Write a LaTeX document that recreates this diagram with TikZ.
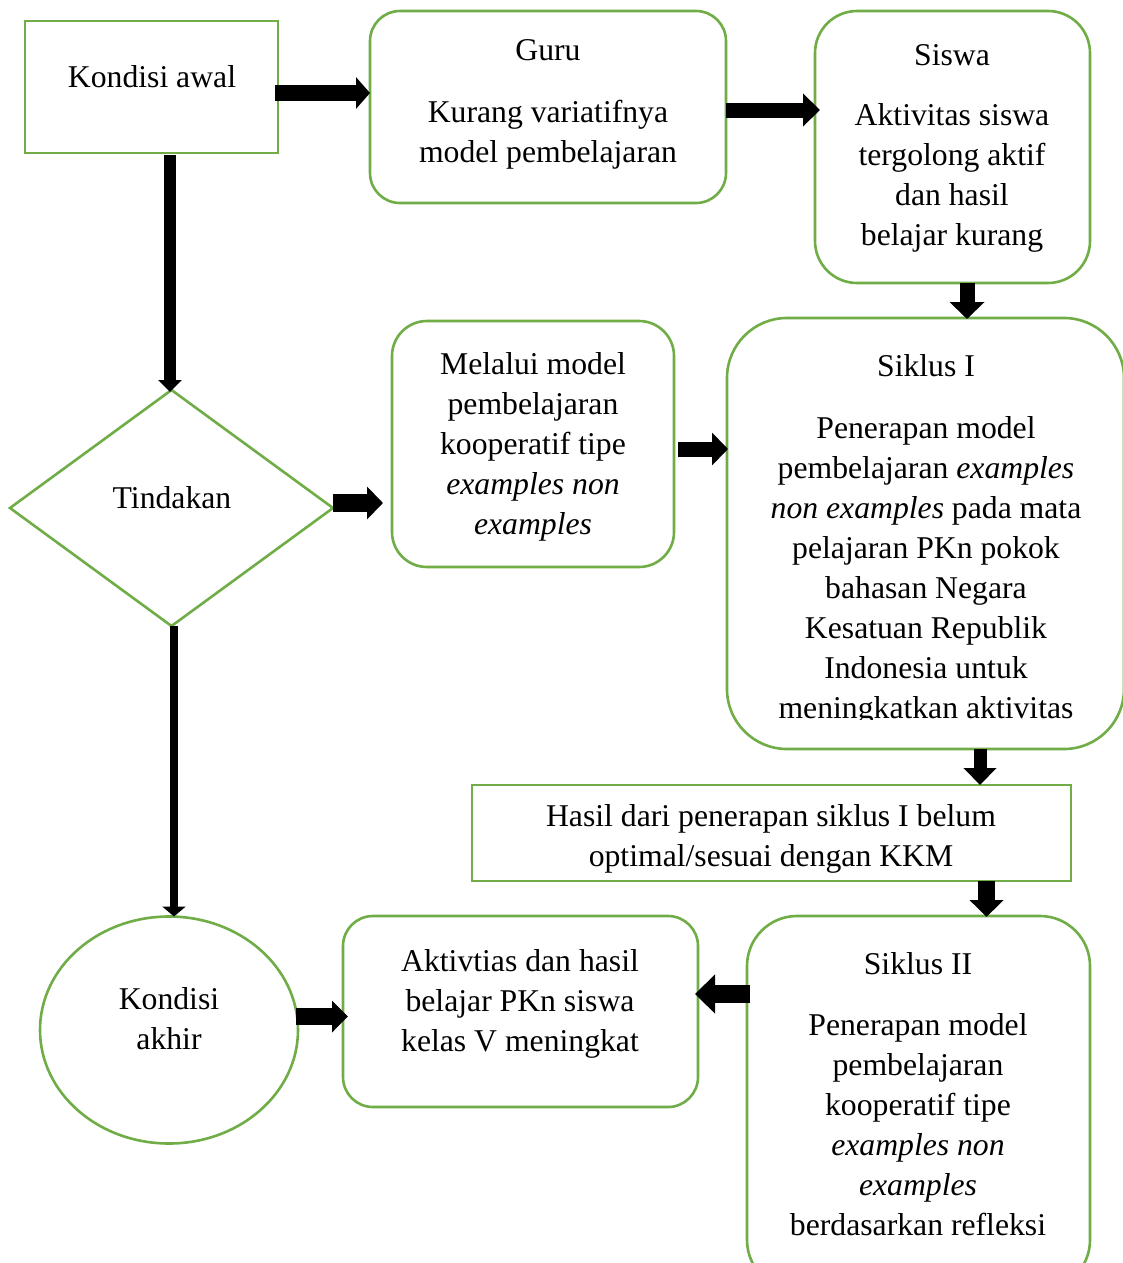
\documentclass[tikz,border=0pt]{standalone}
\usepackage{fontspec}
\setmainfont{Liberation Serif}
\usetikzlibrary{shapes.geometric,arrows.meta}
\definecolor{boxgreen}{HTML}{70AD47}
\tikzset{
  box/.style={draw=boxgreen, line width=2.6pt, fill=white, inner sep=0pt, outer sep=0pt},
  rbox/.style={box, rectangle, rounded corners=#1},
  txt/.style={align=center, inner sep=0pt, font=\fontsize{31.7}{40}\selectfont},
  barrow/.style n args={3}{draw=black, line width=#1, -{Triangle[width=#2, length=#3]}}
}
\begin{document}
\begin{tikzpicture}[x=1pt,y=-1pt]
\clip (0,0) rectangle (1123,1263);
\fill[white] (0,0) rectangle (1123,1263);
% boxes
\node[box, rectangle, minimum width=253pt, minimum height=132pt] (ka) at (151.5,87) {};
\node[rbox=30pt, minimum width=356pt, minimum height=192pt] (guru) at (548,107) {};
\node[rbox=42pt, minimum width=275pt, minimum height=272pt] (siswa) at (952.5,147) {};
\node[rbox=60pt, minimum width=397pt, minimum height=431pt] (s1) at (925.5,533.5) {};
\node[rbox=35pt, minimum width=282pt, minimum height=246pt] (mel) at (533,444) {};
\node[box, diamond, minimum width=323pt, minimum height=236pt] (dia) at (171.5,508) {};
\node[box, rectangle, minimum width=599pt, minimum height=96pt] (hasil) at (771.5,833) {};
\node[rbox=50pt, minimum width=343pt, minimum height=374pt] (s2) at (918.5,1103) {};
\node[rbox=30pt, minimum width=355pt, minimum height=191pt] (akt) at (520.5,1011.5) {};
\node[box, ellipse, minimum width=258pt, minimum height=227pt] (kak) at (169,1030) {};
% texts
\node[txt] (kat) at (152,77) {Kondisi awal};
\node[txt] (gurut) at (548,104) {Guru\\[22pt]Kurang variatifnya\\model pembelajaran};
\node[txt] (siswat) at (952,148) {Siswa\\[20pt]Aktivitas siswa\\tergolong aktif\\dan hasil\\belajar kurang};
\begin{scope}
\clip (727,318) rectangle (1124,719);
\node[txt] (s1t) at (926,540) {Siklus I\\[22pt]Penerapan model\\pembelajaran \textit{examples}\\\textit{non examples} pada mata\\pelajaran PKn pokok\\bahasan Negara\\Kesatuan Republik\\Indonesia untuk\\meningkatkan aktivitas};
\end{scope}
\node[txt] (melt) at (533,447) {Melalui model\\pembelajaran\\kooperatif tipe\\\textit{examples non}\\\textit{examples}};
\node[txt] (diat) at (172,498) {Tindakan};
\node[txt] (hasilt) at (771,839) {Hasil dari penerapan siklus I belum\\optimal/sesuai dengan KKM};
\node[txt] (s2t) at (918,1094) {Siklus II\\[21pt]Penerapan model\\pembelajaran\\kooperatif tipe\\\textit{examples non}\\\textit{examples}\\berdasarkan refleksi};
\node[txt] (aktt) at (520,1004) {Aktivtias dan hasil\\belajar PKn siswa\\kelas V meningkat};
\node[txt] (kakt) at (169,1019) {Kondisi\\akhir};
% arrows
\draw[barrow={16pt}{31pt}{14pt}] ([xshift=-3pt,yshift=-6pt]ka.east) -- ([yshift=14pt]guru.west);
\draw[barrow={15pt}{32pt}{17pt}] ([yshift=-3pt]guru.east) -- ([xshift=5pt,yshift=37pt]siswa.west);
\draw[barrow={15pt}{34pt}{17pt}] ([xshift=14.5pt]siswa.south) -- ([xshift=41.5pt,yshift=-1pt]s1.north);
\draw[barrow={12pt}{23pt}{12pt}] ([xshift=18.5pt,yshift=-2pt]ka.south) -- ([xshift=-1.5pt,yshift=-2pt]dia.north);
\draw[barrow={18pt}{32pt}{16pt}] ([yshift=5pt]dia.east) -- ([xshift=-9pt,yshift=-59pt]mel.west);
\draw[barrow={15pt}{32pt}{16pt}] ([xshift=4pt,yshift=-5pt]mel.east) -- ([xshift=1pt,yshift=84.5pt]s1.west);
\draw[barrow={13pt}{32pt}{17pt}] ([xshift=54.5pt]s1.south) -- ([xshift=208.5pt]hasil.north);
\draw[barrow={17pt}{33pt}{17pt}] ([xshift=215pt]hasil.south) -- ([xshift=68pt,yshift=-1pt]s2.north);
\draw[barrow={18pt}{38pt}{20pt}] ([xshift=3pt,yshift=109pt]s2.west) -- ([xshift=-3pt,yshift=17.5pt]akt.east);
\draw[barrow={17pt}{31pt}{16pt}] ([xshift=-2pt,yshift=13.5pt]kak.east) -- ([xshift=5pt,yshift=-5pt]akt.west);
\draw[barrow={8pt}{23pt}{10pt}] ([xshift=2.5pt]dia.south) -- ([xshift=5pt]kak.north);
\end{tikzpicture}
\end{document}
